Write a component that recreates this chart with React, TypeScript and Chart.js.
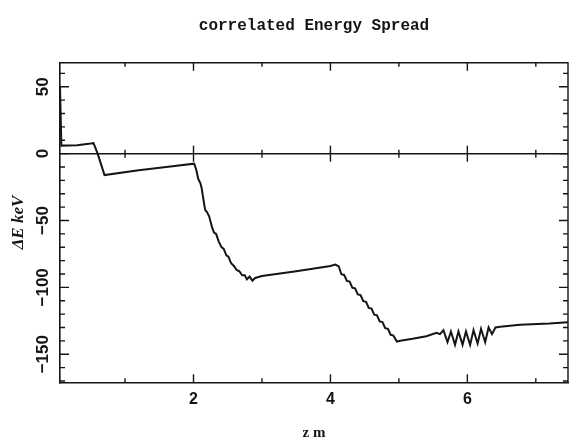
import React, { useEffect, useRef } from "react";
import { Chart, registerables } from "chart.js";

Chart.register(...registerables);

// z position (m)
const Z_M = [
  0.05, 0.07, 0.3, 0.5, 0.54, 0.6, 0.7, 1.2, 1.6, 2.01,
  2.04, 2.07, 2.1, 2.12, 2.15, 2.17, 2.2, 2.23, 2.27, 2.3, 2.33, 2.37, 2.41, 2.44, 2.48, 2.51, 2.55, 2.59, 2.63, 2.67, 2.71, 2.75, 2.78, 2.82, 2.86, 2.9,
  3.0, 3.5, 4.0, 4.07,
  4.12, 4.16, 4.2, 4.24, 4.28, 4.32, 4.36, 4.4, 4.44, 4.48, 4.52, 4.56, 4.6, 4.64, 4.68, 4.72, 4.76, 4.8, 4.84, 4.88, 4.92, 4.97,
  5.02, 5.2, 5.4, 5.55,
  5.6, 5.65, 5.71, 5.76, 5.82, 5.87, 5.93, 5.98, 6.04, 6.09, 6.15, 6.2, 6.26, 6.31, 6.36, 6.41,
  6.48, 6.77, 7.2, 7.47,
];

// correlated energy spread ΔE (keV)
const DELTA_E = [
  50, 6, 6.3, 7.5, 7.8, 0, -16, -12.5, -10, -7.5,
  -12, -19, -22, -26, -36, -42, -44, -47, -55, -59, -60, -66, -70, -71, -76, -77, -82, -84, -87, -88, -91, -91, -94, -92, -95, -93,
  -91.5, -88, -84, -83,
  -84.2, -90.2, -90.7, -95.2, -95.7, -100.2, -100.8, -105.3, -105.8, -110.3, -110.8, -115.4, -115.9, -120.4, -120.9, -125.5, -126, -130.5, -131, -135.5, -136, -140.5,
  -140, -138.5, -136.5, -134,
  -135, -132, -141, -133, -143, -133, -143, -133, -143, -132, -142, -131, -141, -130, -135, -130,
  -129.5, -128, -127, -126,
];

const X_LABELED = [2, 4, 6];
const Y_LABELED = [-150, -100, -50, 0, 50];

const INK = "#151515";

const inwardTicks = {
  id: "inwardTicks",
  afterDatasetsDraw(chart: any) {
    const { ctx, chartArea: a, scales } = chart;
    const x = scales.x;
    const y = scales.y;
    ctx.save();
    ctx.strokeStyle = INK;
    ctx.lineWidth = 1.4;
    ctx.beginPath();
    ctx.moveTo(a.left, a.top);
    ctx.lineTo(a.right, a.top);
    ctx.lineTo(a.right, a.bottom);
    const y0 = y.getPixelForValue(0);
    x.ticks.forEach((t: any) => {
      const px = x.getPixelForValue(t.value);
      const major = t.value % 2 === 0;
      const L = major ? 8 : 4;
      ctx.moveTo(px, a.bottom);
      ctx.lineTo(px, a.bottom - L);
      ctx.moveTo(px, a.top);
      ctx.lineTo(px, a.top + L);
      ctx.moveTo(px, y0 - L);
      ctx.lineTo(px, y0 + L);
    });
    y.ticks.forEach((t: any) => {
      const py = y.getPixelForValue(t.value);
      const major = t.value % 50 === 0;
      const L = major ? 9 : 5;
      ctx.moveTo(a.left, py);
      ctx.lineTo(a.left + L, py);
      ctx.moveTo(a.right, py);
      ctx.lineTo(a.right - L, py);
    });
    ctx.stroke();
    ctx.restore();
  },
};

export default function App() {
  const ref = useRef<HTMLCanvasElement | null>(null);

  useEffect(() => {
    if (!ref.current) return;
    const chart = new Chart(ref.current, {
      type: "line",
      data: {
        datasets: [
          {
            data: Z_M.map((z, i) => ({ x: z, y: DELTA_E[i] })),
            borderColor: INK,
            borderWidth: 2,
            pointRadius: 0,
            tension: 0,
            fill: false,
          },
        ],
      },
      options: {
        responsive: false,
        animation: false,
        devicePixelRatio: 1,
        layout: { padding: { left: 0, right: 2, top: 0, bottom: 0 } },
        plugins: {
          legend: { display: false },
          tooltip: { enabled: false },
          title: {
            display: true,
            fullSize: false,
            text: "correlated Energy Spread",
            color: INK,
            font: { family: "'Liberation Mono', monospace", weight: "bold", size: 16 },
            padding: { top: 16, bottom: 27.5 },
          },
        },
        scales: {
          x: {
            type: "linear",
            position: "bottom",
            min: 0.05,
            max: 7.47,
            grid: { display: true, drawOnChartArea: false, drawTicks: false },
            border: { display: true, color: INK, width: 1.6 },
            ticks: {
              stepSize: 1,
              includeBounds: false,
              autoSkip: false,
              maxRotation: 0,
              padding: 8,
              color: INK,
              font: { family: "'Liberation Sans', sans-serif", weight: "bold", size: 16 },
              callback: (v: any) => (X_LABELED.includes(v) ? String(v) : ""),
            },
            title: {
              display: true,
              text: "z m",
              color: INK,
              font: { family: "'Liberation Serif', serif", weight: "bold", size: 15 },
              padding: { top: 0, bottom: -4 },
            },
            afterFit: (s: any) => {
              s.height = 55.7;
            },
          },
          y: {
            type: "linear",
            position: "left",
            min: -171,
            max: 68,
            grid: {
              display: true,
              drawTicks: false,
              drawOnChartArea: true,
              lineWidth: 1.4,
              color: (c: any) => (c.tick && c.tick.value === 0 ? INK : "rgba(0,0,0,0)"),
            },
            border: { display: true, color: INK, width: 1.6 },
            ticks: {
              stepSize: 10,
              includeBounds: false,
              autoSkip: false,
              minRotation: 90,
              maxRotation: 90,
              crossAlign: "center",
              padding: -2.5,
              color: INK,
              font: { family: "'Liberation Sans', sans-serif", weight: "bold", size: 17 },
              callback: (v: any) =>
                Y_LABELED.includes(v) ? (v < 0 ? "\u2212" + Math.abs(v) : String(v)) : "",
            },
            title: {
              display: true,
              text: "ΔE keV",
              color: INK,
              font: { family: "'Liberation Serif', serif", weight: "bold", style: "italic", size: 17 },
              padding: { top: 8, bottom: 0 },
            },
            afterFit: (s: any) => {
              s.width = 60;
            },
          },
        },
      } as any,
      plugins: [inwardTicks],
    });
    return () => chart.destroy();
  }, []);

  return (
    <div style={{ position: "absolute", left: 0, top: 0, width: 570, height: 438, background: "#fff" }}>
      <canvas ref={ref} width={570} height={438} style={{ display: "block" }} />
    </div>
  );
}
